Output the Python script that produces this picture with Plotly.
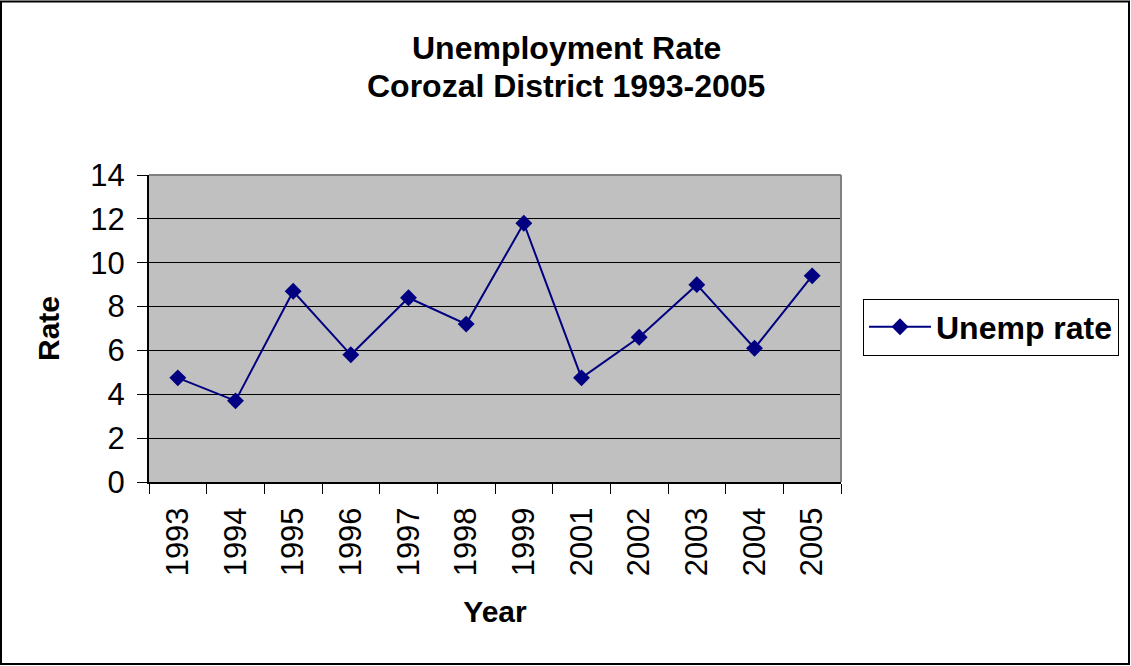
import plotly.graph_objects as go

years = ["1993", "1994", "1995", "1996", "1997", "1998", "1999",
         "2001", "2002", "2003", "2004", "2005"]
unemp_rate = [4.75, 3.7, 8.7, 5.8, 8.4, 7.2, 11.8, 4.75, 6.6, 9.0, 6.1, 9.4]

W, H = 1131, 666
L, R, T, B = 149, 841, 175, 482
FONT = "Liberation Sans, Arial, sans-serif"

def px_x(p):
    return (p - L) / (R - L)

def px_y(p):
    return (B - p) / (B - T)

fig = go.Figure()
fig.add_trace(go.Scatter(
    x=years, y=unemp_rate, mode="lines+markers", name="Unemp rate",
    line=dict(color="#000080", width=2),
    marker=dict(symbol="diamond", size=13, color="#000080"),
))

fig.update_layout(
    width=W, height=H,
    margin=dict(l=L, r=W - R, t=T, b=H - B, pad=0),
    paper_bgcolor="white",
    plot_bgcolor="#C0C0C0",
    font=dict(family=FONT, color="black", size=30),
    showlegend=True,
    legend=dict(
        x=px_x(863), y=px_y(327), xanchor="left", yanchor="middle",
        bordercolor="black", borderwidth=1, bgcolor="white",
        font=dict(family=FONT, size=32, color="black", weight="bold"),
        itemwidth=62,
    ),
    xaxis=dict(
        type="category", tickson="boundaries", range=[-0.5, len(years) - 0.5],
        ticks="outside", ticklen=10, tickcolor="black", tickwidth=1,
        showline=True, linecolor="black", linewidth=2,
        showgrid=False, tickangle=-90,
        tickfont=dict(size=31), ticklabelstandoff=11,
        title=dict(text="<b>Year</b>", font=dict(size=30), standoff=26),
    ),
    yaxis=dict(
        range=[0, 14], dtick=2, tick0=0,
        ticks="outside", ticklen=10, tickcolor="black", tickwidth=1,
        showline=True, linecolor="black", linewidth=2,
        showgrid=True, gridcolor="black", gridwidth=1, zeroline=False,
        tickfont=dict(size=31), ticklabelstandoff=6,
        title=dict(text="<b>Rate</b>", font=dict(size=30), standoff=22),
    ),
    shapes=[
        dict(type="line", xref="paper", yref="paper", x0=0, x1=1, y0=1, y1=1,
             line=dict(color="#808080", width=2)),
        dict(type="line", xref="paper", yref="paper", x0=1, x1=1, y0=0, y1=1,
             line=dict(color="#808080", width=2)),
        dict(type="rect", xref="paper", yref="paper",
             x0=px_x(1), x1=px_x(1129), y0=px_y(1.5), y1=px_y(664),
             line=dict(color="black", width=2), fillcolor="rgba(0,0,0,0)"),
    ],
    annotations=[
        dict(text="<b>Unemployment Rate</b>", xref="paper", yref="paper",
             x=px_x(566), y=px_y(48), xanchor="center", yanchor="middle",
             showarrow=False, font=dict(size=32)),
        dict(text="<b>Corozal District 1993-2005</b>", xref="paper", yref="paper",
             x=px_x(566), y=px_y(86), xanchor="center", yanchor="middle",
             showarrow=False, font=dict(size=32)),
    ],
)

fig.write_html("out.html", config={"displayModeBar": False},
               post_script="document.body.style.margin='0';")
